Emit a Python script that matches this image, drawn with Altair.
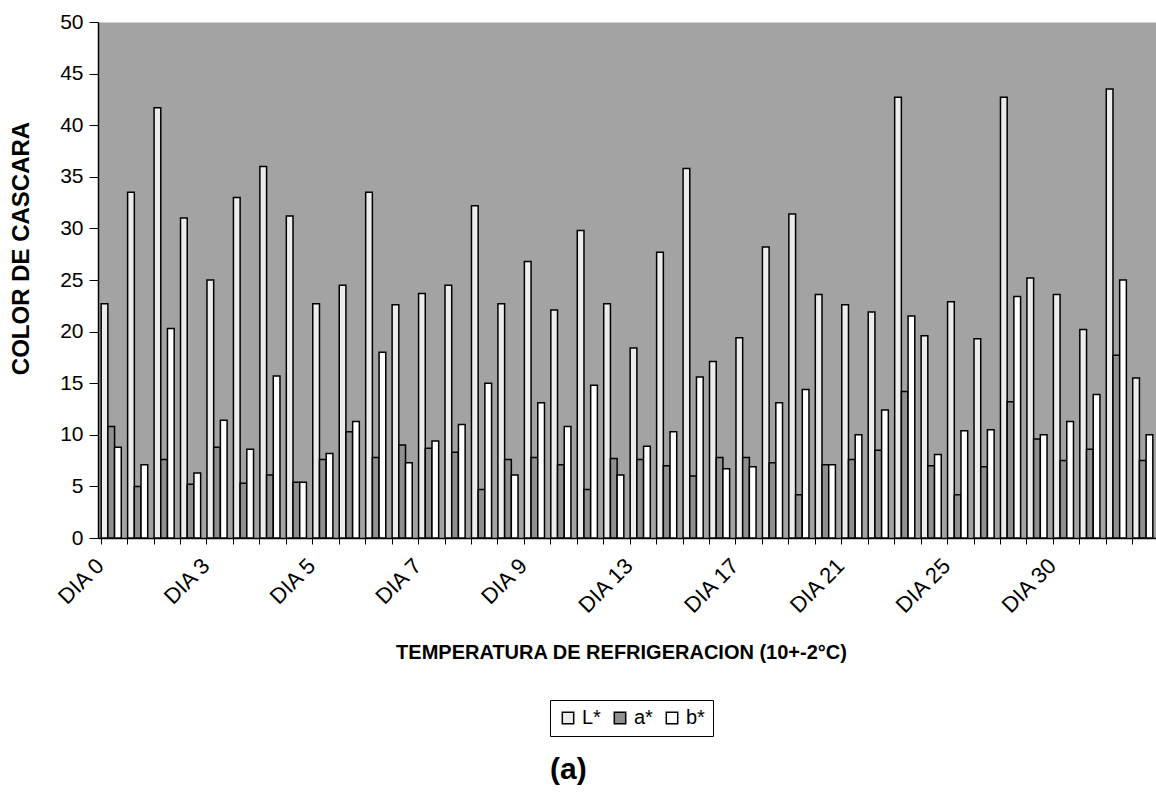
import json
import altair as alt
import pandas as pd

# ---- data ----
day_labels = ["DIA 0", "DIA 3", "DIA 5", "DIA 7", "DIA 9",
              "DIA 13", "DIA 17", "DIA 21", "DIA 25", "DIA 30"]
series = ["L*", "a*", "b*"]

L_vals = [22.7, 33.5, 41.7, 31.0, 25.0, 33.0, 36.0, 31.2, 22.7, 24.5,
          33.5, 22.6, 23.7, 24.5, 32.2, 22.7, 26.8, 22.1, 29.8, 22.7,
          18.4, 27.7, 35.8, 17.1, 19.4, 28.2, 31.4, 23.6, 22.6, 21.9,
          42.7, 19.6, 22.9, 19.3, 42.7, 25.2, 23.6, 20.2, 43.5, 15.5]
a_vals = [10.8, 5.0, 7.6, 5.2, 8.8, 5.3, 6.1, 5.4, 7.6, 10.3,
          7.8, 9.0, 8.7, 8.3, 4.7, 7.6, 7.8, 7.1, 4.7, 7.7,
          7.6, 7.0, 6.0, 7.8, 7.8, 7.3, 4.2, 7.1, 7.6, 8.5,
          14.2, 7.0, 4.2, 6.9, 13.2, 9.6, 7.5, 8.6, 17.7, 7.5]
b_vals = [8.8, 7.1, 20.3, 6.3, 11.4, 8.6, 15.7, 5.4, 8.2, 11.3,
          18.0, 7.3, 9.4, 11.0, 15.0, 6.1, 13.1, 10.8, 14.8, 6.1,
          8.9, 10.3, 15.6, 6.7, 6.9, 13.1, 14.4, 7.1, 10.0, 12.4,
          21.5, 8.1, 10.4, 10.5, 23.4, 10.0, 11.3, 13.9, 25.0, 10.0]

n_cat = len(L_vals)
rows = []
for i in range(n_cat):
    for s, vals in zip(series, [L_vals, a_vals, b_vals]):
        rows.append({"cat": i, "serie": s, "valor": vals[i]})
df = pd.DataFrame(rows)

FONT = "Liberation Sans"
label_expr = ("datum.value % 4 == 0 ? " + json.dumps(day_labels)
              + "[floor(datum.value / 4)] : ''")

chart = alt.Chart(df).mark_bar(stroke="black", strokeWidth=1.5).encode(
    x=alt.X("cat:O", sort=list(range(n_cat)),
            scale=alt.Scale(paddingInner=0.24, paddingOuter=0.12),
            axis=alt.Axis(title="TEMPERATURA DE REFRIGERACION (10+-2°C)",
                          labelExpr=label_expr, labelAngle=-45,
                          labelAlign="right", labelBaseline="middle",
                          labelOverlap=False, labelFontSize=22,
                          labelFont=FONT, labelColor="black",
                          labelPadding=18, labelOffset=-11,
                          bandPosition=0, tickSize=6, tickColor="black",
                          domainColor="black", domainWidth=1.5,
                          titleFont=FONT, titleFontSize=20,
                          titleFontWeight="bold", titleColor="black",
                          titleX=523, titleY=114, titleAlign="center",
                          titleBaseline="middle")),
    xOffset=alt.XOffset("serie:N", sort=series,
                        scale=alt.Scale(paddingInner=0, paddingOuter=0)),
    y=alt.Y("valor:Q",
            scale=alt.Scale(domain=[0, 50], nice=False),
            axis=alt.Axis(title="COLOR DE CASCARA",
                          values=list(range(0, 51, 5)), grid=False,
                          tickSize=9, tickColor="black",
                          domainColor="black", domainWidth=1.5,
                          labelFont=FONT, labelFontSize=21,
                          labelColor="black", labelPadding=6,
                          titleFont=FONT, titleFontSize=24,
                          titleFontWeight="bold", titleColor="black",
                          titleAngle=-90, titleX=-77, titleY=226,
                          titleAlign="center", titleBaseline="middle")),
    color=alt.Color("serie:N", sort=series,
                    scale=alt.Scale(domain=series,
                                    range=["#ececec", "#8f8f8f", "#ffffff"]),
                    legend=alt.Legend(title=None, orient="none",
                                      legendX=452, legendY=678,
                                      direction="horizontal",
                                      symbolType="square", symbolSize=130,
                                      symbolStrokeColor="black",
                                      symbolStrokeWidth=1.5,
                                      labelFont=FONT, labelFontSize=20,
                                      labelColor="black", labelOffset=4,
                                      columnPadding=9, padding=8,
                                      strokeColor="black", fillColor="white")),
).properties(
    width=1058,
    height=516,
    padding={"left": 98, "top": 22, "right": 0, "bottom": 255},
    autosize=alt.AutoSizeParams(type="none"),
    background="white",
    title=alt.TitleParams(text="(a)", orient="bottom", anchor="start",
                          frame="group", dx=452, offset=18, font=FONT,
                          fontSize=30, fontWeight="bold", color="black"),
).configure_view(
    fill="#a3a3a3", stroke="transparent"
)

chart.save("out.html", embed_options={"renderer": "svg", "actions": False})
